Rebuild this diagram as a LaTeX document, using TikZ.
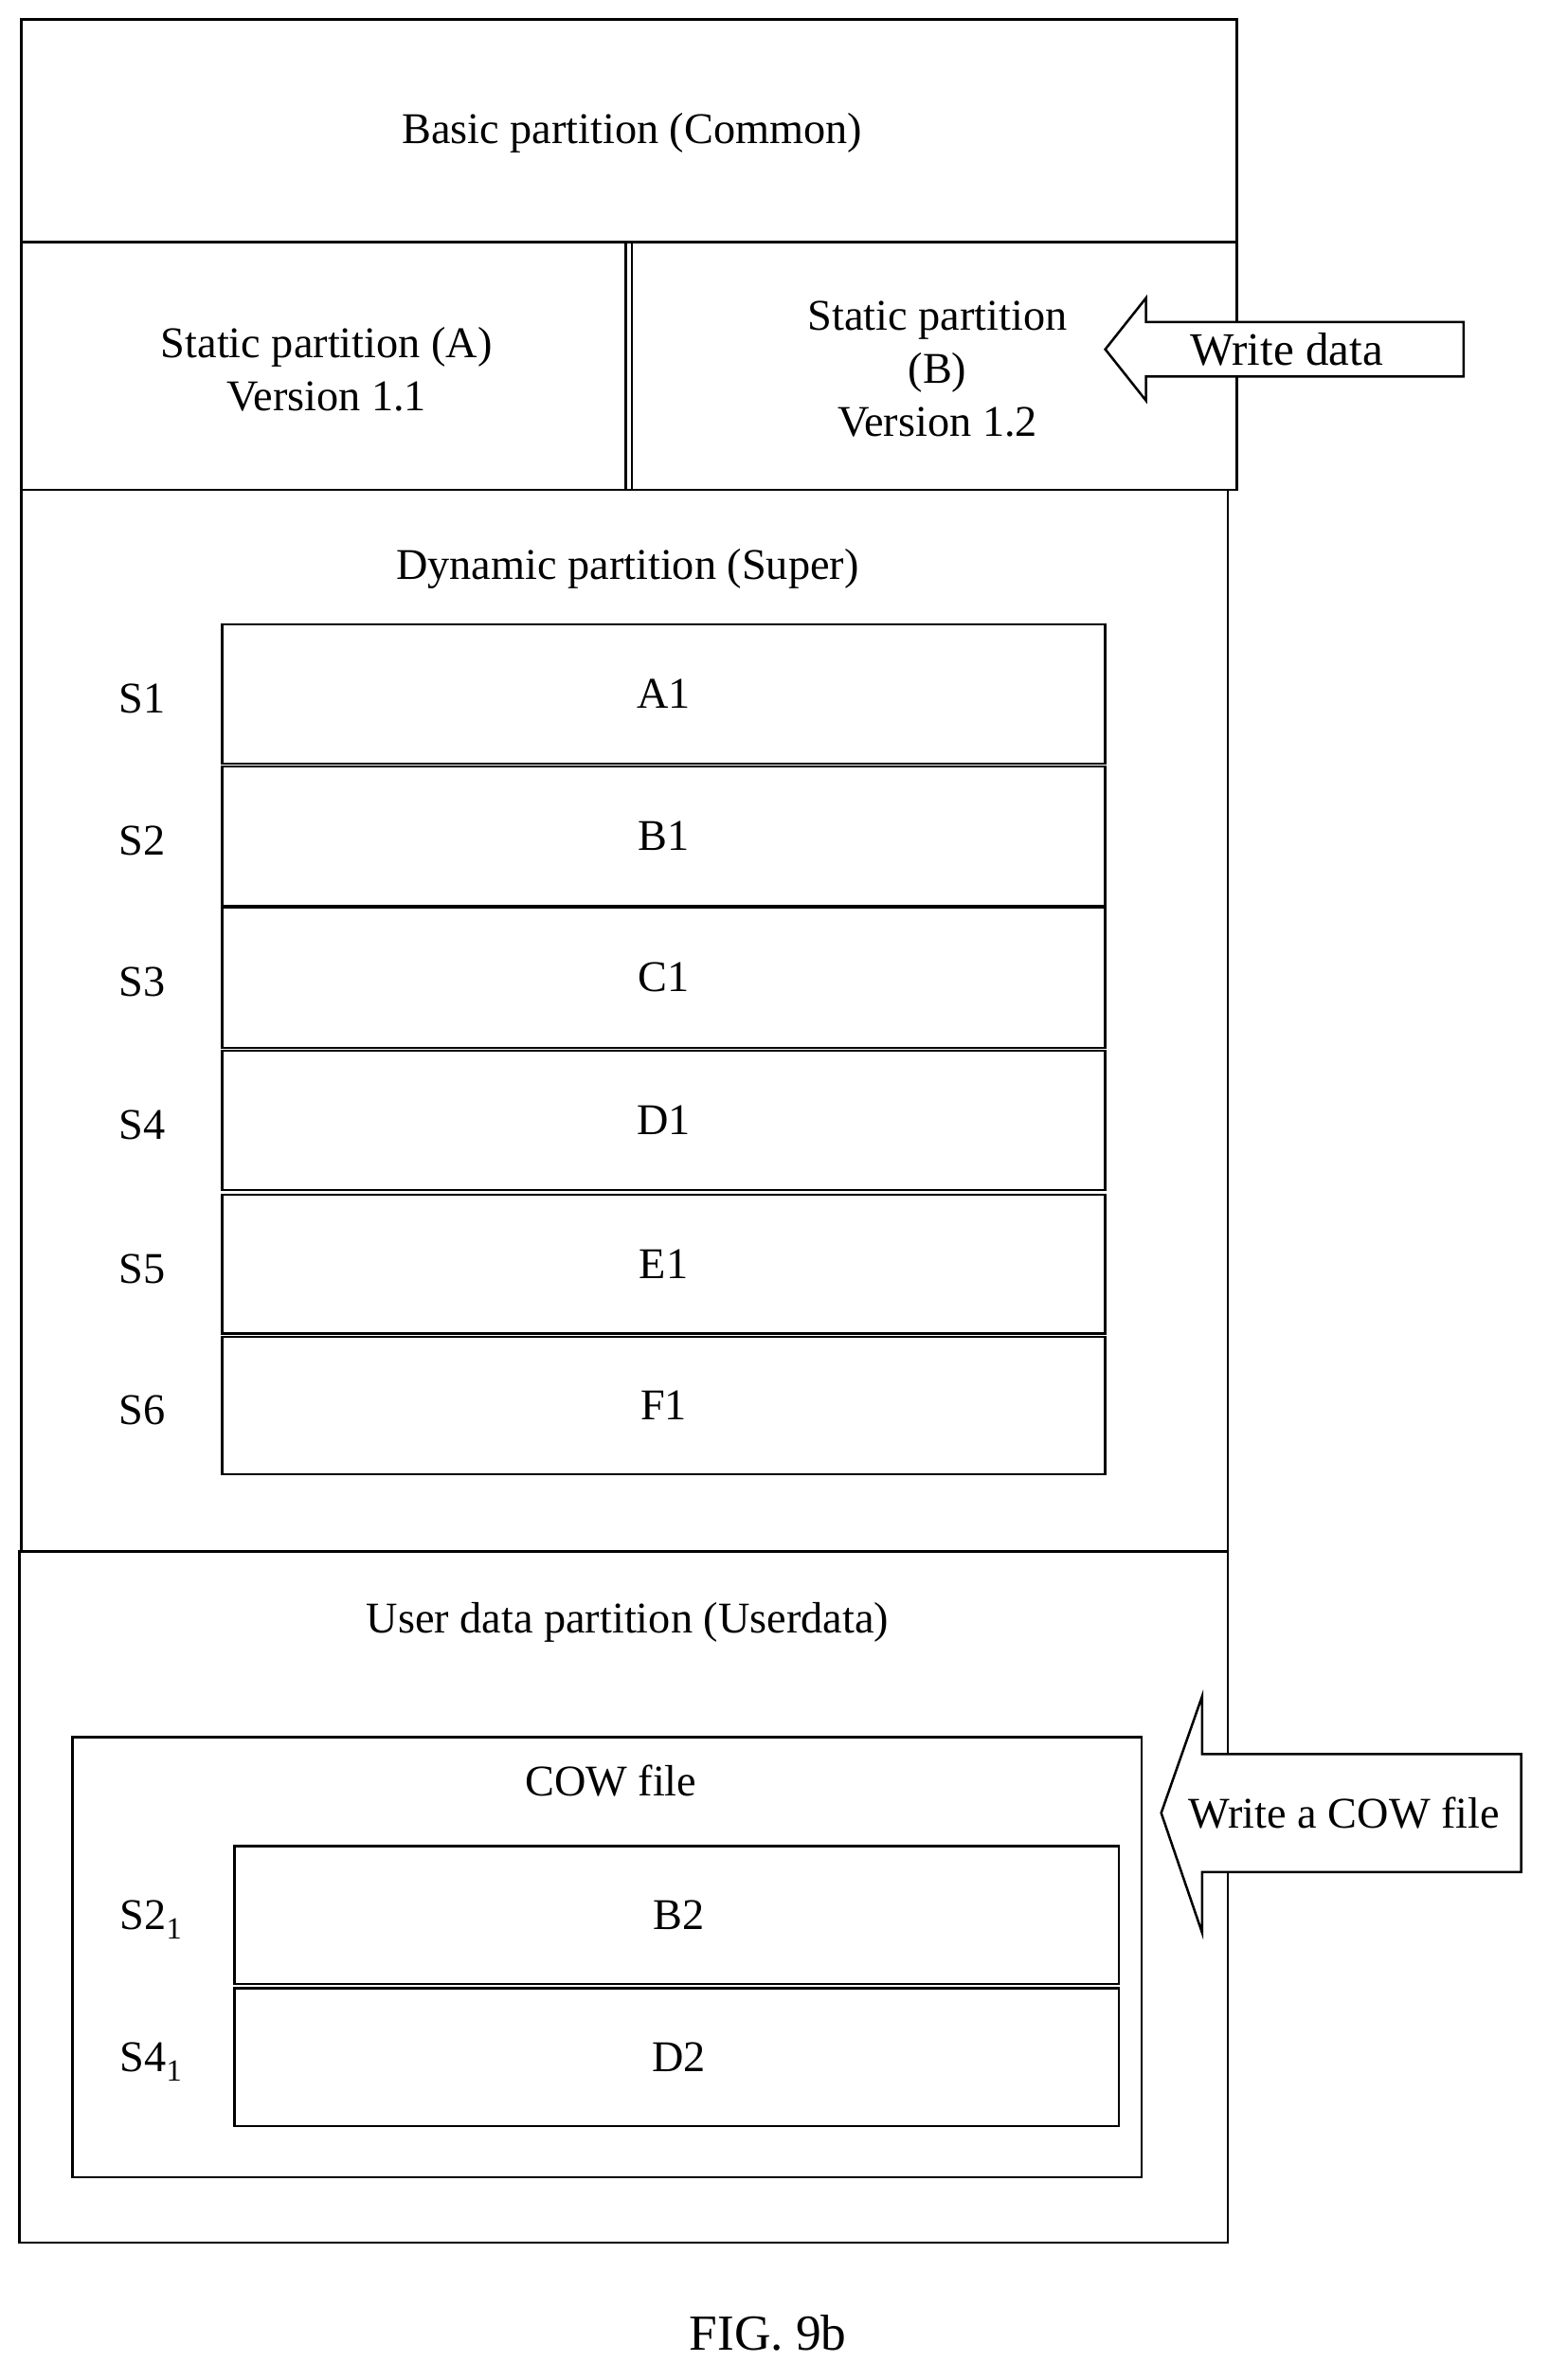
\documentclass[tikz,border=0pt]{standalone}
\usepackage{fontspec}
\setmainfont{Liberation Serif}
\usetikzlibrary{positioning, calc}

\tikzset{
  part/.style={draw, line width=1.8pt},
  lbl/.style={font=\fontsize{33}{40}\selectfont, align=center},
  bigarrow/.style={draw, fill=white, line width=1.8pt, line join=miter}
}

\begin{document}
\begin{tikzpicture}[x=0.04cm, y=-0.04cm]
  \useasboundingbox (0,0) rectangle (1024,1574);

  % Basic and static partitions
  \draw[part] (14,13) rectangle (818,160);
  \node[lbl] (basic) at (418,88) {Basic partition (Common)};
  \draw[part] (14,160) rectangle (818,324);
  \draw[part] (414,160) -- (414,324);
  \draw[part] (418,160) -- (418,324);
  \node[lbl] (statA) at (216,244) {Static partition (A)\\Version 1.1};
  \node[lbl] (statB) at (620,244) {Static partition\\(B)\\Version 1.2};

  % Dynamic partition
  \draw[part] (14,324) rectangle (812,1026);
  \node[lbl] (super) at (415,376) {Dynamic partition (Super)};
  \foreach \ya/\yb/\s/\n in {413/505/S1/A1, 507/599/S2/B1, 600/693/S3/C1,
                             695/787/S4/D1, 790/882/S5/E1, 884/975/S6/F1} {
    \draw[part] (147,\ya) rectangle (731,\yb);
    \node[lbl] at (439,{(\ya+\yb)/2}) {\n};
    \node[lbl] at (94,{(\ya+\yb)/2+3}) {\s};
  }

  % User data partition
  \draw[part] (13,1026) rectangle (812,1483);
  \node[lbl] (userdata) at (415,1073) {User data partition (Userdata)};
  \draw[part] (48,1149) rectangle (755,1440);
  \node[lbl] (cow) at (404,1178) {COW file};
  \foreach \ya/\yb/\s/\n in {1221/1312/S2/B2, 1315/1406/S4/D2} {
    \draw[part] (155,\ya) rectangle (740,\yb);
    \node[lbl] at (449,{(\ya+\yb)/2}) {\n};
    \node[lbl] at (100,{(\ya+\yb)/2+3}) {\s\textsubscript{1}};
  }

  % Write arrows
  \draw[bigarrow] (731,231) -- (758,197) -- (758,213) -- (968,213)
    -- (968,249) -- (758,249) -- (758,265) -- cycle;
  \node[lbl, font=\fontsize{35}{40}\selectfont] (wdata) at (851,231) {Write data};
  \draw[bigarrow] (768,1199) -- (795,1122) -- (795,1160) -- (1006,1160)
    -- (1006,1238) -- (795,1238) -- (795,1278) -- cycle;
  \node[lbl] (wcow) at (889,1199) {Write a COW file};

  \node[lbl, font=\fontsize{38}{40}\selectfont] (fig) at (508,1543) {FIG. 9b};
\end{tikzpicture}
\end{document}
